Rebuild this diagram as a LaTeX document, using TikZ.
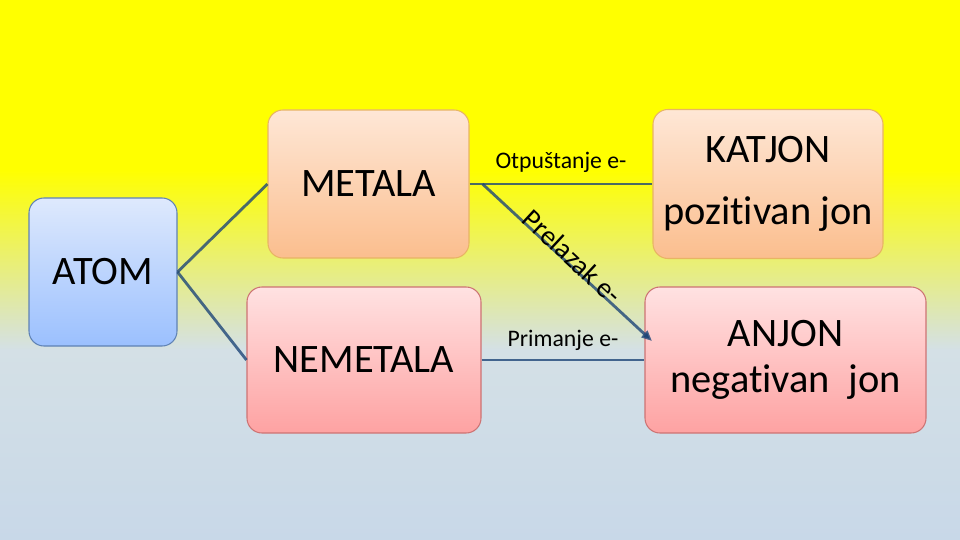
\documentclass[tikz,border=0pt]{standalone}
\usepackage{fontspec}
\setmainfont[Ligatures=NoCommon]{Carlito}
\usetikzlibrary{arrows.meta, positioning}
\definecolor{BY}{RGB}{255,255,0}
\definecolor{BL}{RGB}{212,224,230}
\definecolor{BLd}{RGB}{200,216,232}
\definecolor{AT}{RGB}{222,233,253}
\definecolor{AB}{RGB}{155,192,254}
\definecolor{AD}{RGB}{95,130,180}
\definecolor{MT}{RGB}{254,231,214}
\definecolor{MB}{RGB}{251,190,142}
\definecolor{MD}{RGB}{232,180,100}
\definecolor{NT}{RGB}{255,226,226}
\definecolor{NB}{RGB}{254,162,162}
\definecolor{ND}{RGB}{205,115,115}
\definecolor{LN}{RGB}{30,70,120}

\begin{document}
\begin{tikzpicture}[
  box/.style={rounded corners=8.5pt, line width=0.6pt, align=center,
              inner sep=0pt, font=\fontsize{23}{26}\selectfont},
  atm/.style={box, draw=AD, top color=AT, bottom color=AB},
  met/.style={box, draw=MD, top color=MT, bottom color=MB},
  nem/.style={box, draw=ND, top color=NT, bottom color=NB},
  ln/.style={draw=LN, draw opacity=0.8, line width=1.6pt},
  lbl/.style={font=\fontsize{13.5}{16}\selectfont}
]
% Background
\useasboundingbox (0,0) rectangle (19.2,-10.8);
\fill[BY] (0,0) rectangle (19.2,-3.4);
\shade[top color=BY, bottom color=BL] (0,-3.4) rectangle (19.2,-7.0);
\shade[top color=BL, bottom color=BLd] (0,-7.0) rectangle (19.2,-10.8);

% Nodes
\node[atm, minimum width=2.96cm, minimum height=2.96cm] (atom) at (2.06,-5.44) {ATOM};
\node[met, minimum width=4.02cm, minimum height=2.96cm] (met)  at (7.37,-3.68) {METALA};
\node[nem, minimum width=4.68cm, minimum height=2.92cm] (nem)  at (7.28,-7.2)  {NEMETALA};
\node[met, minimum width=4.6cm,  minimum height=2.98cm] (kat)  at (15.36,-3.68) {KATJON\\[9.5pt]pozitivan jon};
\node[nem, minimum width=5.62cm, minimum height=2.92cm] (anj)  at (15.71,-7.2) {ANJON\\negativan\ \ jon};

\coordinate[right=0.26cm of met.east] (br);
\coordinate (tip) at ([shift={(0.15,0.38)}]anj.west);

% Connectors
\draw[ln] (atom.east) -- (met.west);
\draw[ln] (atom.east) -- (nem.west);
\draw[ln] (met.east) -- node[lbl, midway, yshift=0.44cm]{Otpuštanje e-} (kat.west);
\draw[ln] (nem.east) -- node[lbl, midway, yshift=0.4cm]{Primanje e-} (anj.west);
\draw[ln, -{Triangle[length=6pt, width=5pt]}] (br) --
  node[sloped, pos=0.5, yshift=4.5pt, font=\fontsize{16}{18}\selectfont]{Prelazak e-} (tip);
\end{tikzpicture}
\end{document}
